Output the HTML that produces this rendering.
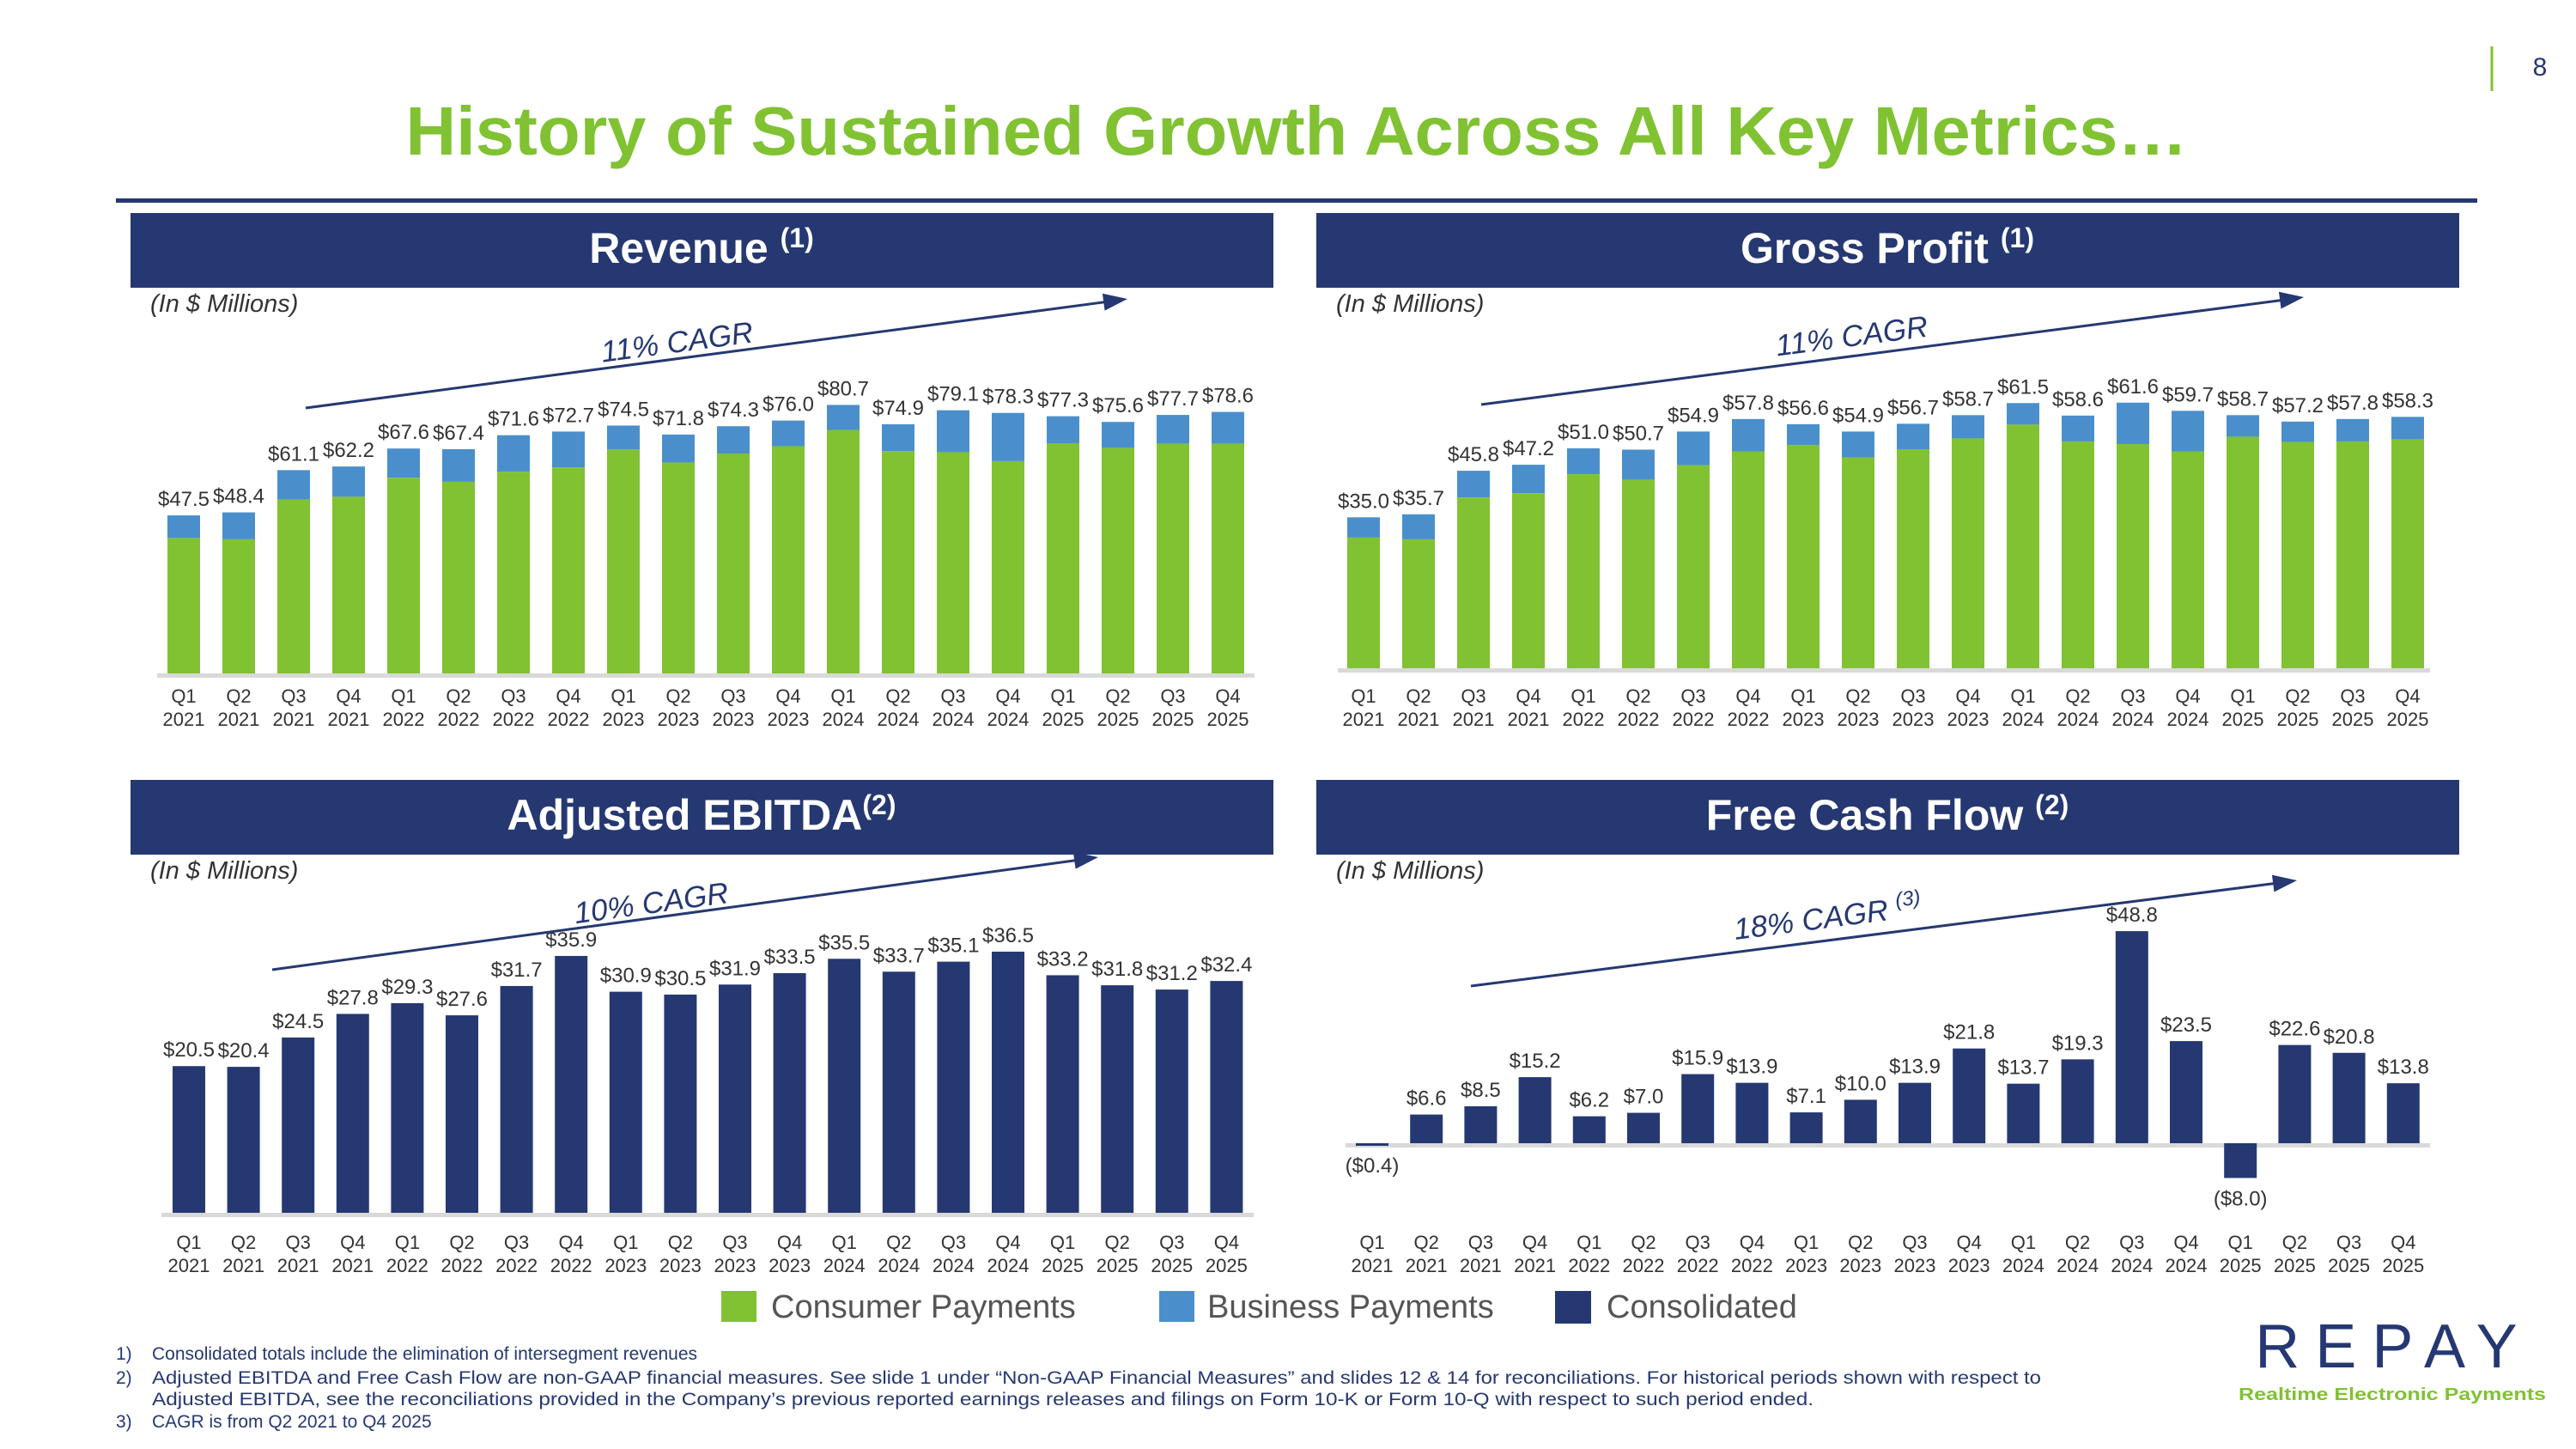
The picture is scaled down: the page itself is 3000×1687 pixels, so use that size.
<!DOCTYPE html>
<html><head><meta charset="utf-8"><style>
html,body{margin:0;padding:0;background:#fff}
svg{display:block}
text{font-family:"Liberation Sans",sans-serif}
</style></head><body>
<svg id="s" width="3000" height="1687" viewBox="0 0 3000 1687" xmlns="http://www.w3.org/2000/svg">
<line x1="2902" y1="54" x2="2902" y2="106" stroke="#80c232" stroke-width="3"/>
<text x="2958" y="88" font-size="30" fill="#253872" text-anchor="middle">8</text>
<text x="1510" y="180" font-size="80" font-weight="bold" fill="#80c232" text-anchor="middle" textLength="2075" lengthAdjust="spacingAndGlyphs">History of Sustained Growth Across All Key Metrics…</text>
<rect x="135" y="231" width="2750" height="5" fill="#253872"/>
<g id="charts"></g>
<g>
<rect x="840" y="1503" width="41" height="36" fill="#80c232"/>
<text x="898" y="1534" font-size="38" fill="#555">Consumer Payments</text>
<rect x="1350" y="1503" width="41" height="36" fill="#4a8fcc"/>
<text x="1406" y="1534" font-size="38" fill="#555">Business Payments</text>
<rect x="1811" y="1503" width="42" height="38" fill="#253872"/>
<text x="1871" y="1534" font-size="38" fill="#555">Consolidated</text>
</g>
<g font-size="21" fill="#253872">
<text x="135" y="1583">1)</text>
<text x="177" y="1583">Consolidated totals include the elimination of intersegment revenues</text>
<text x="135" y="1611">2)</text>
<text x="177" y="1611" textLength="2200" lengthAdjust="spacingAndGlyphs">Adjusted EBITDA and Free Cash Flow are non-GAAP financial measures.  See slide 1 under “Non-GAAP Financial Measures” and slides 12 &amp; 14 for reconciliations. For historical periods shown with respect to</text>
<text x="177" y="1636" textLength="1935" lengthAdjust="spacingAndGlyphs">Adjusted EBITDA, see the reconciliations provided in the Company’s previous reported earnings releases and filings on Form 10-K or Form 10-Q with respect to such period ended.</text>
<text x="135" y="1662">3)</text>
<text x="177" y="1662">CAGR is from Q2 2021 to Q4 2025</text>
</g>
<g>
<text x="2788" y="1592" font-size="72" fill="#253872" text-anchor="middle" letter-spacing="18">REPAY</text>
<text x="2786" y="1630" font-size="20" font-weight="bold" fill="#80c232" text-anchor="middle" textLength="358" lengthAdjust="spacingAndGlyphs">Realtime Electronic Payments</text>
</g>
</svg>
<script>
const quarters = ["Q1","Q2","Q3","Q4","Q1","Q2","Q3","Q4","Q1","Q2","Q3","Q4","Q1","Q2","Q3","Q4","Q1","Q2","Q3","Q4"];
const years = ["2021","2021","2021","2021","2022","2022","2022","2022","2023","2023","2023","2023","2024","2024","2024","2024","2025","2025","2025","2025"];
const revenueTotal = [47.5,48.4,61.1,62.2,67.6,67.4,71.6,72.7,74.5,71.8,74.3,76.0,80.7,74.9,79.1,78.3,77.3,75.6,77.7,78.6];
const revenueConsumer = [40.7,40.3,52.3,53.1,58.8,57.6,60.6,61.9,67.3,63.4,66.1,68.3,73.2,66.8,66.5,63.8,69.2,67.8,69.0,69.0];
const gpTotal = [35.0,35.7,45.8,47.2,51.0,50.7,54.9,57.8,56.6,54.9,56.7,58.7,61.5,58.6,61.6,59.7,58.7,57.2,57.8,58.3];
const gpConsumer = [30.3,29.9,39.6,40.6,45.0,43.7,47.1,50.3,51.8,48.9,50.8,53.3,56.5,52.6,52.0,50.3,53.7,52.5,52.6,53.1];
const ebitda = [20.5,20.4,24.5,27.8,29.3,27.6,31.7,35.9,30.9,30.5,31.9,33.5,35.5,33.7,35.1,36.5,33.2,31.8,31.2,32.4];
const fcf = [-0.4,6.6,8.5,15.2,6.2,7.0,15.9,13.9,7.1,10.0,13.9,21.8,13.7,19.3,48.8,23.5,-8.0,22.6,20.8,13.8];

const NS="http://www.w3.org/2000/svg";
const root=document.getElementById('charts');
function mk(tag,attrs,parent,txt){const e=document.createElementNS(NS,tag);for(const k in attrs)e.setAttribute(k,attrs[k]);if(txt!==undefined)e.textContent=txt;(parent||root).appendChild(e);return e;}
function fmt(v){return v<0?"($"+Math.abs(v).toFixed(1)+")":"$"+v.toFixed(1);}

function panel(cfg){
  const g=mk('g',{});
  
  
  const h=mk('rect',{x:cfg.hx,y:cfg.hy,width:1331,height:87,fill:'#253872'},g);
  
  
  const ht=mk('text',{x:cfg.hx+665,y:cfg.hy+58,'font-size':50,'font-weight':'bold',fill:'#fff','text-anchor':'middle'},g);
  
  
  ht.textContent=cfg.title;
  mk('tspan',{'font-size':32,dy:-18},ht,cfg.sup);
  const units=mk('text',{x:cfg.hx+23,y:cfg.hy+115,'font-size':29,'font-style':'italic',fill:'#333'},g,'(In $ Millions)');
  
  
  const xs=i=>cfg.x0+i*cfg.step;
  const ys=v=>cfg.base-v*cfg.k;
  const ax=mk('rect',{x:cfg.ax0,y:cfg.base,width:cfg.ax1-cfg.ax0,height:5,fill:'#d9d9d9'},g);
  
  
  const bw=38;
  cfg.total.forEach((t,i)=>{
    const x=xs(i)-bw/2;
    if(cfg.consumer){
      const c=cfg.consumer[i];
      const b=mk('rect',{x:x,y:ys(t),width:bw,height:ys(c)-ys(t),fill:'#4a8fcc'},g);
      
      
      const r=mk('rect',{x:x,y:ys(c),width:bw,height:cfg.base-ys(c),fill:'#80c232'},g);
      
      
    } else {
      const y0=Math.min(ys(t),cfg.base), hh=Math.max(Math.abs(ys(t)-cfg.base),3);
      const r=mk('rect',{x:x,y:y0,width:bw,height:hh,fill:'#253872'},g);
      
      
    }
    const ly=t<0?ys(t)+32:ys(t)-11;
    const l=mk('text',{x:xs(i),y:ly,'font-size':24,fill:'#333','text-anchor':'middle'},g,fmt(t));
    
    
    const q=mk('text',{x:xs(i),y:cfg.qy,'font-size':22,fill:'#333','text-anchor':'middle'},g,quarters[i]);
    
    
    const yy=mk('text',{x:xs(i),y:cfg.qy+27,'font-size':22,fill:'#333','text-anchor':'middle'},g,years[i]);
    
    
  });
  const a=cfg.arrow;
  const ln=mk('line',{x1:a[0],y1:a[1],x2:a[2]-14,y2:a[3]+2,stroke:'#253872','stroke-width':3},g);
  
  
  const ang=Math.atan2(a[3]-a[1],a[2]-a[0]);
  const p=(d,o)=>[a[2]-d*Math.cos(ang)+o*Math.sin(ang),a[3]-d*Math.sin(ang)-o*Math.cos(ang)];
  const p1=p(28,10),p2=p(28,-10);
  const hd=mk('polygon',{points:`${a[2]},${a[3]} ${p1[0]},${p1[1]} ${p2[0]},${p2[1]}`,fill:'#253872'},g);
  
  
  const deg=ang*180/Math.PI;
  const ct=mk('text',{x:cfg.ct[0],y:cfg.ct[1],'font-size':35,'font-style':'italic',fill:'#253872','text-anchor':'middle',transform:`rotate(${deg} ${cfg.ct[0]} ${cfg.ct[1]})`},g,cfg.cagr);
  
  
  if(cfg.cagrSup) mk('tspan',{'font-size':24,dy:-14},ct,cfg.cagrSup);
}

panel({name:'revenue',title:'Revenue ',sup:'(1)',hx:152,hy:248,x0:214,step:64,base:784,k:3.873,ax0:183,ax1:1461,qy:818,total:revenueTotal,consumer:revenueConsumer,arrow:[356,475,1313,348],ct:[790,410],cagr:'11% CAGR'});
panel({name:'gross-profit',title:'Gross Profit ',sup:'(1)',hx:1533,hy:248,x0:1588,step:64.0,base:778,k:5.02,ax0:1558,ax1:2830,qy:818,total:gpTotal,consumer:gpConsumer,arrow:[1725,471,2683,346],ct:[2158,403],cagr:'11% CAGR'});
panel({name:'adjusted-ebitda',title:'Adjusted EBITDA',sup:'(2)',hx:152,hy:908,x0:220,step:63.6,base:1412,k:8.33,ax0:188,ax1:1460,qy:1454,total:ebitda,arrow:[317,1129,1279,998],ct:[760,1063],cagr:'10% CAGR'});
panel({name:'free-cash-flow',title:'Free Cash Flow ',sup:'(2)',hx:1533,hy:908,x0:1598,step:63.2,base:1331,k:5.06,ax0:1567,ax1:2830,qy:1454,total:fcf,arrow:[1713,1148,2675,1025],ct:[2130,1080],cagr:'18% CAGR ',cagrSup:'(3)'});
</script>
</body></html>
